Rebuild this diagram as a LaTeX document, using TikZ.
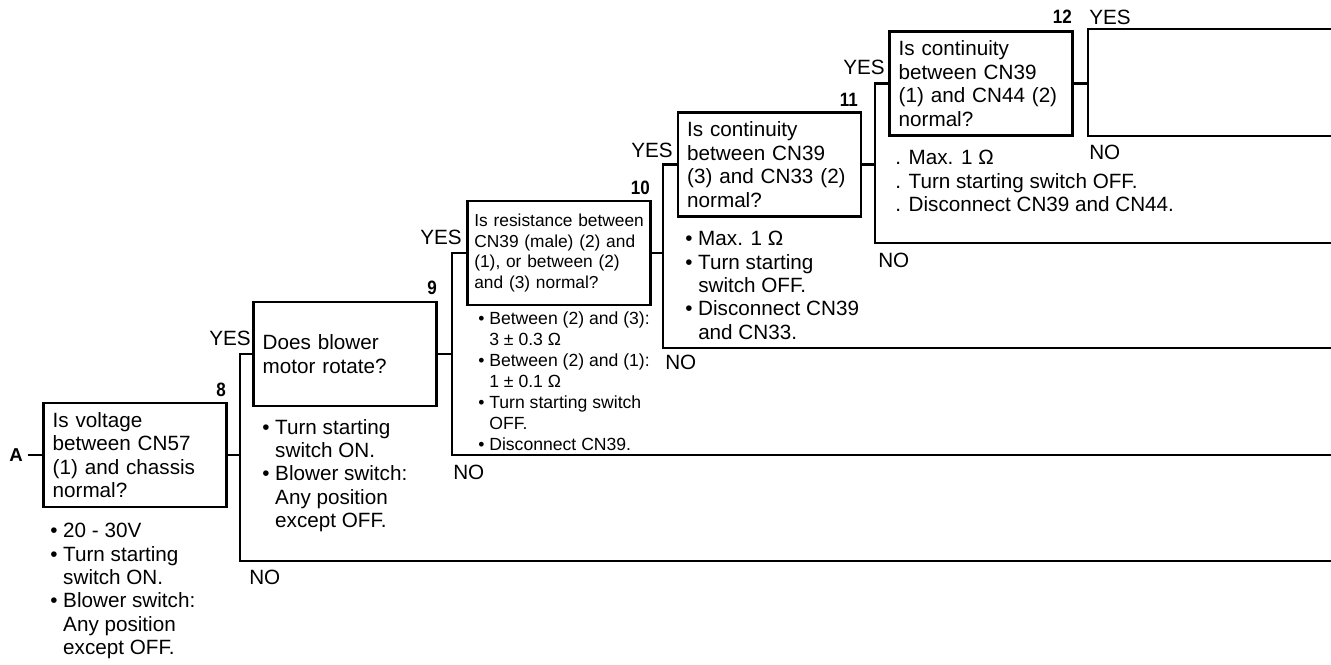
\documentclass[tikz,border=0pt]{standalone}
\usepackage{fontspec}
\setmainfont{Liberation Sans}
\usetikzlibrary{positioning,calc}

\newcommand\boxfont{\fontsize{15.5pt}{17.6pt}\selectfont}
\newcommand\boxsmallfont{\fontsize{13pt}{15.6pt}\selectfont}
\newcommand\notefont{\fontsize{15.5pt}{17.5pt}\selectfont}
\newcommand\notesmallfont{\fontsize{13.2pt}{15.75pt}\selectfont}
\newcommand\stepfont{\fontsize{14.5pt}{16pt}\selectfont\bfseries}
\newcommand\bulit{•\ }
\newcommand\bulind{\hphantom{•\ }}

\begin{document}
\begin{tikzpicture}[
  x=0.75pt, y=-0.75pt,
  qbox/.style={rectangle, draw, line width=1.9pt, align=left, text width=123.5pt,
               inner xsep=6.75pt, inner ysep=0pt, minimum height=78pt, font=\boxfont},
  qsmall/.style={qbox, text width=127pt, inner xsep=5.1pt, font=\boxsmallfont},
  note/.style={align=left, inner sep=0pt, anchor=north west, font=\notefont},
  notesmall/.style={note, font=\notesmallfont},
  stepno/.style={inner sep=0pt, anchor=south east, font=\stepfont},
  lbl/.style={inner sep=0pt, font=\notefont},
  wire/.style={line width=1.8pt}
]
\useasboundingbox (0,0) rectangle (1331,664);

% question boxes
\node[qbox] (q8) at (135,455) {Is voltage\\between CN57\\(1) and chassis\\normal?};
\node[qbox] (q9) at (345,354) {Does blower\\motor rotate?};
\node[qsmall] (q10) at (559,253) {\mbox{Is resistance between}\\CN39 (male) (2) and\\(1), or between (2)\\and (3) normal?};
\node[qbox] (q11) at (769.5,164.5) {Is continuity\\between CN39\\(3) and CN33 (2)\\normal?};
\node[qbox] (q12) at (981,83.5) {Is continuity\\between CN39\\(1) and CN44 (2)\\normal?};

% step numbers
\node[stepno] (s8) at (226,397) {\scalebox{.88}[1]{8}};
\node[stepno] (s9) at (437,295) {\scalebox{.88}[1]{9}};
\node[stepno] (s10) at (650,195) {\scalebox{.88}[1]{10}};
\node[stepno] (s11) at (858,107) {\scalebox{.88}[1]{11}};
\node[stepno] (s12) at (1072,24) {\scalebox{.88}[1]{12}};

% check notes
\node[note] (n8) at (50,523) {\bulit 20 - 30V\\\bulit Turn starting\\\bulind switch ON.\\\bulit Blower switch:\\\bulind Any position\\\bulind except OFF.};
\node[note] (n9) at (262,419) {\bulit Turn starting\\\bulind switch ON.\\\bulit Blower switch:\\\bulind Any position\\\bulind except OFF.};
\node[notesmall] (n10) at (478,311) {\bulit Between (2) and (3):\\\bulind 3 ± 0.3 Ω\\\bulit Between (2) and (1):\\\bulind 1 ± 0.1 Ω\\\bulit Turn starting switch\\\bulind OFF.\\\bulit Disconnect CN39.};
\node[note] (n11) at (685,231) {\bulit Max. 1 Ω\\\bulit Turn starting\\\bulind switch OFF.\\\bulit Disconnect CN39\\\bulind and CN33.};
\node[note] (n12) at (895,150) {. Max. 1 Ω\\. Turn starting switch OFF.\\. Disconnect CN39 and CN44.};

% branch points
\coordinate (no8) at (240,561);   \coordinate (end8) at (1331,561);
\coordinate (no9) at (452,455);   \coordinate (end9) at (1331,455);
\coordinate (no10) at (663,348);  \coordinate (end10) at (1331,348);
\coordinate (no11) at (875,243);  \coordinate (end11) at (1331,243);
\coordinate (yes12) at (1088,29); \coordinate (endy12) at (1331,29);
\coordinate (no12) at (1088,136); \coordinate (endn12) at (1331,136);

\node[font=\fontsize{14pt}{16pt}\selectfont\bfseries, inner sep=3.5pt] (start) at (16,455) {A};
\draw[wire] (start) -- (q8);

\draw[wire] (q8.east) -- (q8.east -| no8);
\draw[wire] (q9.west) -| (no8) -- (end8);
\draw[wire] (q9.east) -- (q9.east -| no9);
\draw[wire] (q10.west) -| (no9) -- (end9);
\draw[wire] (q10.east) -- (q10.east -| no10);
\draw[wire] (q11.west) -| (no10) -- (end10);
\draw[wire] (q11.east) -- (q11.east -| no11);
\draw[wire] (q12.west) -| (no11) -- (end11);
\draw[wire] (q12.east) -- (q12.east -| yes12);
\draw[wire] (endy12) -- (yes12) -- (no12) -- (endn12);

% YES / NO labels
\node[lbl, anchor=east] (y9) at (251,338) {YES};
\node[lbl, anchor=east] (y10) at (462,237) {YES};
\node[lbl, anchor=east] (y11) at (673,150) {YES};
\node[lbl, anchor=east] (y12) at (885,67) {YES};
\node[lbl, anchor=west] (y13) at (1089,17) {YES};
\node[lbl, anchor=west] (o8) at (249,577) {NO};
\node[lbl, anchor=west] (o9) at (453,472) {NO};
\node[lbl, anchor=west] (o10) at (665,362) {NO};
\node[lbl, anchor=west] (o11) at (878,260) {NO};
\node[lbl, anchor=west] (o12) at (1089,152) {NO};
\end{tikzpicture}
\end{document}
